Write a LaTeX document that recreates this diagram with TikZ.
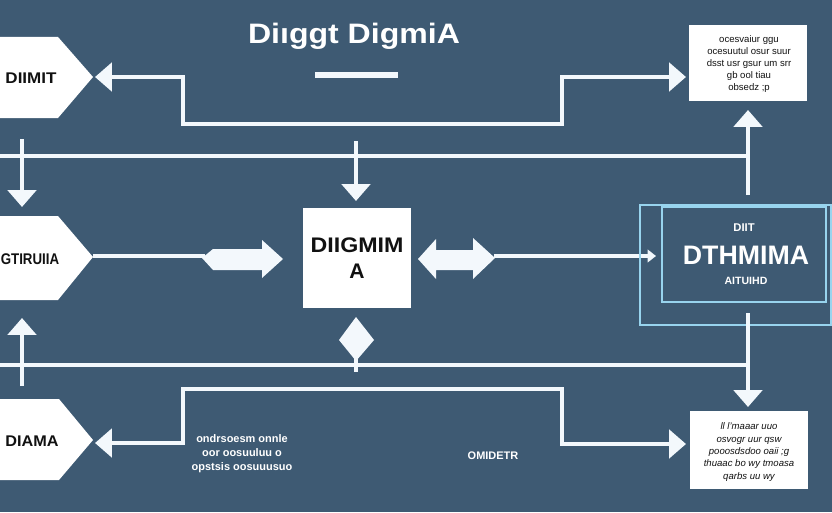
\documentclass[tikz,border=0pt]{standalone}
\usepackage{fontspec}
\setmainfont{Liberation Sans}
\usetikzlibrary{arrows.meta,calc}
\definecolor{bg}{HTML}{3E5A73}
\definecolor{ln}{HTML}{F3F8FC}
\definecolor{cy}{HTML}{98D4EE}
\definecolor{ink}{HTML}{111111}
\begin{document}
\begin{tikzpicture}[x=0.025cm,y=-0.025cm,
  wire/.style={draw=ln,line width=3pt},
  thinwire/.style={draw=ln,line width=2.6pt},
  bighead/.style={-{Triangle[length=12pt,width=20pt]}},
  bothheads/.style={{Triangle[length=12pt,width=20pt]}-{Triangle[length=12pt,width=20pt]}},
  hexshape/.style={fill=white},
  hextext/.style={text=ink,font=\bfseries\fontsize{11}{13}\selectfont,inner sep=0pt},
  boxtext/.style={text=ink,font=\fontsize{6.8}{8.6}\selectfont,align=center,inner sep=0pt},
  whitetext/.style={text=white,font=\bfseries\fontsize{7.8}{10}\selectfont,align=center,inner sep=0pt},
  cyanbox/.style={draw=cy,line width=1.5pt}
]
\useasboundingbox (0,0) rectangle (832,512);
\fill[bg] (0,0) rectangle (832,512);

% title
\node[text=white,font=\bfseries\fontsize{20}{23}\selectfont,xscale=1.14,inner sep=0pt] (title) at (354,36) {Di\i ggt DigmiA};
\coordinate (barL) at (315,75);
\coordinate (barR) at (398,75);
\draw[draw=ln,line width=4pt] (barL) -- (barR);

% hexagons (left)
\fill[hexshape] (-5,37) -- (58,37) -- (93,77) -- (58,118) -- (-5,118) -- cycle;
\node[hextext,xscale=1.1] (h1) at (31,78) {DIIMIT};
\coordinate (h1tip) at (95,77);

\fill[hexshape] (-5,216) -- (58,216) -- (93,257) -- (58,300) -- (-5,300) -- cycle;
\node[hextext,xscale=0.86] (h2) at (30,259) {GTIRUIIA};
\coordinate (h2tip) at (93,256);

\fill[hexshape] (-5,399) -- (59,399) -- (93,440) -- (59,480) -- (-5,480) -- cycle;
\node[hextext,xscale=1.05] (h3) at (32,441) {DIAMA};
\coordinate (h3tip) at (95,443);

% top right box
\node[fill=white,minimum width=2.95cm,minimum height=1.9cm,inner sep=0pt] (rb1) at (748,63) {};
\node[boxtext] (rb1t) at (749,64) {ocesvaiur ggu\\ ocesuutul osur suur\\ dsst usr gsur um srr\\ gb ool tiau\hspace{3em}\\ obsedz ;p};
\coordinate (rb1in) at (686,77);
\coordinate (rb1s) at (748,110);

% bottom right box
\node[fill=white,minimum width=2.95cm,minimum height=1.95cm,inner sep=0pt] (rb2) at (749,450) {};
\node[boxtext,font=\itshape\fontsize{6.8}{8.8}\selectfont] (rb2t) at (749,452) {ll l'maaar uuo\\ osvogr uur qsw\\ pooosdsdoo oaii ;g\\ thuaac bo wy tmoasa\\ qarbs uu wy};
\coordinate (rb2in) at (686,444);
\coordinate (rb2n) at (748,407);

% top connector
\draw[wire,bothheads] (h1tip) -- (183,77) -- (183,124) -- (562,124) -- (562,77) -- (rb1in);

% upper bus
\coordinate (busA0) at (0,156);
\coordinate (busA1) at (748,156);
\draw[wire] (busA0) -- (busA1);
\draw[wire,bighead] (748,195) -- (rb1s);
\draw[wire,bighead] (22,139) -- (22,207);
\draw[wire,bighead] (356,141) -- (356,201);

% centre box
\node[fill=white,minimum width=2.7cm,minimum height=2.5cm,inner sep=0pt,
      text=ink,font=\bfseries\fontsize{15}{19}\selectfont,align=center] (cb) at (357,258) {\scalebox{1.1}[1]{DIIGMIM}\\A};

% left arrow shape
\draw[thinwire] (h2tip) -- (205,256);
\fill[ln] (202,258) -- (213,249) -- (262,249) -- (262,240) -- (283,259) -- (262,278) -- (262,270) -- (213,270) -- cycle;

% right double arrow
\fill[ln] (418,259) -- (436,239) -- (436,250) -- (473,250) -- (473,238) -- (495,258) -- (473,279) -- (473,270) -- (436,270) -- (436,279) -- cycle;
\coordinate (dA) at (494,256);
\coordinate (bbin) at (656,256);
\draw[thinwire,-{Triangle[length=6pt,width=9pt]}] (dA) -- (bbin);

% cyan boxes
\draw[cyanbox] (640,205) rectangle (831,325);
\draw[cyanbox] (662,207) rectangle (826,302);
\node[text=white,font=\bfseries\fontsize{8}{9}\selectfont,inner sep=0pt] (bb1) at (744,228) {DIIT};
\node[text=white,font=\bfseries\fontsize{19}{22}\selectfont,inner sep=0pt] (bb2) at (746,255) {DTHMIMA};
\node[text=white,font=\bfseries\fontsize{7.5}{9}\selectfont,inner sep=0pt] (bb3) at (746,281) {AITUIHD};

% lower bus
\coordinate (busB0) at (0,365);
\coordinate (busB1) at (748,365);
\draw[wire] (busB0) -- (busB1);
\draw[wire,bighead] (748,313) -- (rb2n);
\draw[wire,bighead] (22,386) -- (22,318);

% diamond
\fill[ln] (356,317) -- (374,340) -- (356,361) -- (339,340) -- cycle;
\draw[wire] (356,357) -- (356,372);

% bottom connector
\draw[wire,bothheads] (h3tip) -- (183,443) -- (183,389) -- (562,389) -- (562,444) -- (rb2in);

% small labels
\node[whitetext] (lbl1) at (242,454) {ondrsoesm onnle\\ oor oosuuluu o\\ opstsis oosuuusuo};
\node[whitetext,font=\bfseries\fontsize{7.8}{9}\selectfont] (lbl2) at (493,456) {OMIDETR};
\end{tikzpicture}
\end{document}
